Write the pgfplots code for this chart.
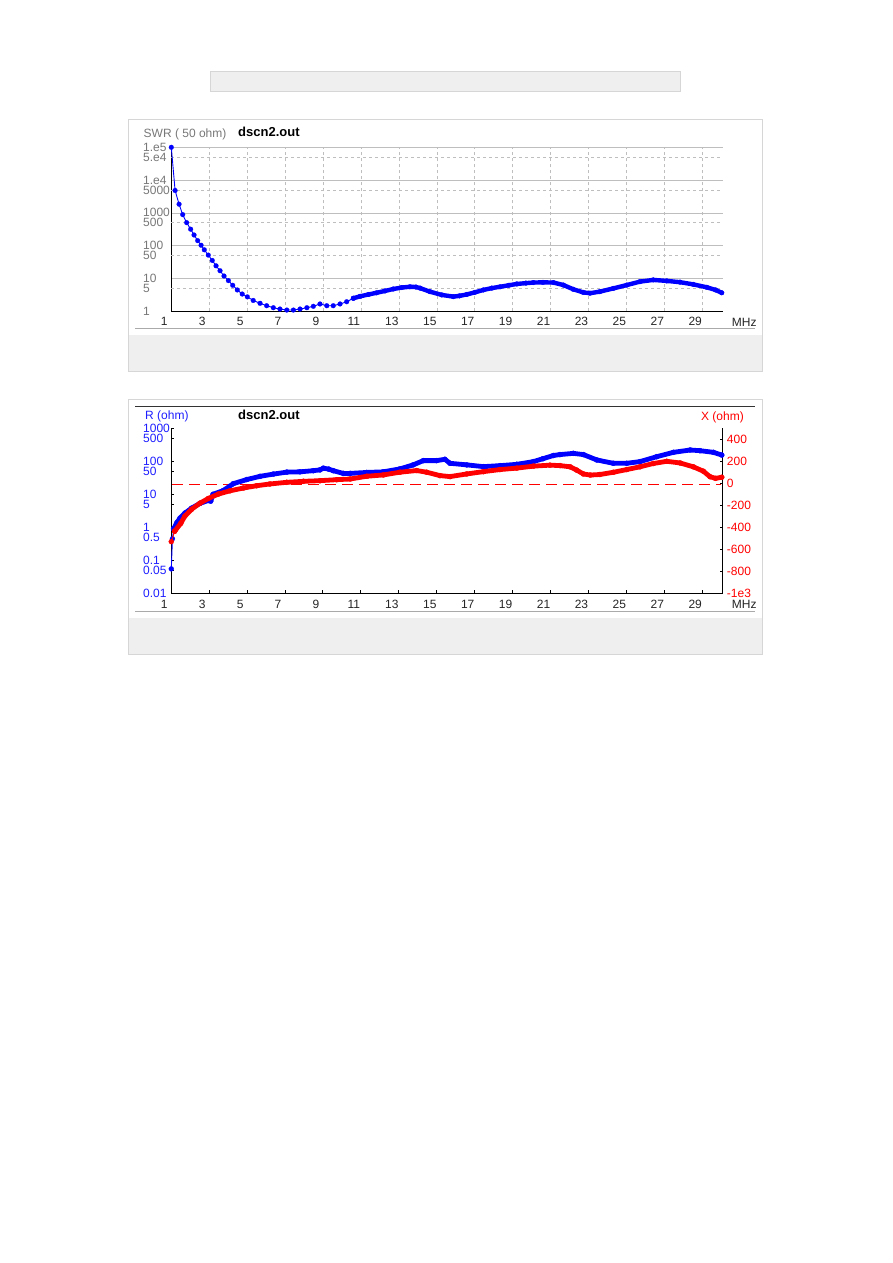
\documentclass[border=0pt]{standalone}
\usepackage{fontspec}
\setmainfont{Liberation Sans}
\usepackage{pgfplots}
\usepackage{pgfplotstable}
\pgfplotsset{compat=1.18}
\definecolor{dblue}{RGB}{0,0,255}
\definecolor{dred}{RGB}{255,0,0}
\definecolor{lblgray}{RGB}{120,120,120}
\definecolor{gridgray}{RGB}{190,190,190}
\definecolor{framegray}{RGB}{214,214,214}
\definecolor{bandgray}{RGB}{239,239,239}
\definecolor{sepgray}{RGB}{170,170,170}
\definecolor{lblblue}{RGB}{30,30,255}

\pgfplotstableread{
f v
1.0 100000
1.2 4800
1.41 1830
1.6 880
1.81 500
2.02 316
2.2 210
2.39 141
2.57 102
2.74 74
2.95 51
3.16 35
3.36 24
3.57 17
3.78 11.7
4.01 8.5
4.24 6.1
4.48 4.4
4.74 3.3
5.01 2.7
5.32 2.1
5.68 1.72
6.03 1.45
6.38 1.26
6.73 1.15
7.09 1.07
7.44 1.07
7.79 1.15
8.15 1.26
8.49 1.39
8.84 1.64
9.2 1.45
9.54 1.45
9.9 1.64
10.25 1.92
10.6 2.45
}\swrA

\pgfplotstableread{
f v
10.6 2.45
10.95 2.8
11.4 3.2
11.83 3.6
12.27 4.1
12.71 4.7
13.15 5.2
13.59 5.5
13.9 5.4
14.12 5.0
14.64 3.9
15.26 3.1
15.87 2.75
16.2 2.9
16.58 3.2
17.0 3.7
17.46 4.4
17.9 5.0
18.34 5.5
18.8 6.1
19.22 6.7
19.7 7.1
20.1 7.4
20.6 7.5
21.15 7.4
21.68 6.2
22.2 4.6
22.73 3.7
23.08 3.5
23.6 3.9
24.31 4.9
25.02 6.2
25.72 7.9
26.42 8.9
27.13 8.3
27.83 7.6
28.53 6.5
29.24 5.3
29.7 4.4
30.03 3.6
}\swrB

\pgfplotstableread{
f r
1.0 0.055
1.06 0.45
1.12 0.9
}\rA

\pgfplotstableread{
f r
1.12 0.9
1.3 1.4
1.46 1.9
1.72 2.7
2.07 3.8
2.51 5.3
2.95 6.5
3.08 6.2
3.2 10
3.74 13
4.27 21
4.98 28
5.68 35
6.38 41
7.09 47
7.79 48
8.49 52
8.84 55
9.02 62
9.3 58
9.54 52
10.07 43
10.43 43
11.31 46
12.18 48
13.06 59
13.76 78
14.29 105
14.99 105
15.43 115
15.7 87
16.58 78
17.46 69
18.34 74
19.22 81
20.1 98
20.6 120
21.15 150
21.5 160
22.2 174
22.73 160
23.44 110
24.31 87
25.02 87
25.72 98
26.6 138
27.48 187
28.36 220
28.88 210
29.59 187
30.03 155
}\rB

\pgfplotstableread{
f x
1.0 -530
1.18 -435
}\xA

\pgfplotstableread{
f x
1.18 -435
1.5 -364
1.72 -297
2.07 -236
2.51 -181
2.95 -138
3.48 -98
4.1 -68
4.8 -43
5.5 -22
6.2 -6
7.09 9
7.97 18
8.84 24
9.72 33
10.43 39
11.31 64
12.18 76
13.06 101
13.94 116
14.46 101
15.17 70
15.7 61
16.58 85
17.46 106
18.34 125
19.22 138
20.1 156
20.97 165
21.5 161
22.03 150
22.38 120
22.73 85
23.1 75
23.6 80
24.31 100
25.02 125
25.72 150
26.42 180
27.13 200
27.83 185
28.53 150
29.06 110
29.41 60
29.7 45
30.03 55
}\xB

\begin{document}
\fontsize{12pt}{14pt}\selectfont
\begin{tikzpicture}
\path[fill=white] (0pt,0pt) rectangle (893pt,-1263pt);
% top bar
\path[fill=bandgray, draw=framegray] (210.5pt,-71.5pt) rectangle (680.5pt,-91.5pt);
% top panel frame
\path[fill=white, draw=framegray] (128.5pt,-119.5pt) rectangle (762.5pt,-371.5pt);
\path[fill=bandgray] (129pt,-335pt) rectangle (762pt,-371pt);
\draw[sepgray] (135pt,-328.5pt) -- (755pt,-328.5pt);
% bottom panel frame
\path[fill=white, draw=framegray] (128.5pt,-399.5pt) rectangle (762.5pt,-654.5pt);
\path[fill=bandgray] (129pt,-618pt) rectangle (762pt,-654pt);
\draw[sepgray] (135pt,-611.5pt) -- (755pt,-611.5pt);
\draw[black!80, line width=1pt] (135pt,-406pt) -- (755pt,-406pt);

% titles
\node[anchor=base west, inner sep=0pt, text=lblgray] at (143.5pt,-137pt) {SWR ( 50 ohm)};
\node[anchor=base west, inner sep=0pt, font=\fontsize{13pt}{15pt}\selectfont\bfseries] at (238pt,-136pt) {dscn2.out};
\node[anchor=base west, inner sep=0pt, text=black!85] at (731.7pt,-326pt) {MHz};
\node[anchor=base west, inner sep=0pt, text=lblblue] at (145pt,-419.5pt) {R (ohm)};
\node[anchor=base west, inner sep=0pt, font=\fontsize{13pt}{15pt}\selectfont\bfseries] at (238pt,-419pt) {dscn2.out};
\node[anchor=base east, inner sep=0pt, text=dred] at (744pt,-420pt) {X (ohm)};
\node[anchor=base west, inner sep=0pt, text=black!85] at (731.7pt,-608pt) {MHz};

% zero reactance reference line (X = 0), long red dashes
\draw[draw=red, color=red, line width=1.2pt, dash pattern=on 11pt off 6pt] (172pt,-484.3pt) -- (721pt,-484.3pt);

% ---------- SWR axis ----------
\begin{axis}[
  at={(171.3pt,-311pt)}, anchor=south west,
  scale only axis, width=551.4pt, height=163.7pt,
  xmin=1, xmax=30.08, ymode=log, ymin=1, ymax=1e5,
  axis x line*=bottom, axis y line*=left,
  axis line style={-, black, line width=1pt},
  xtick={1,3,...,29},
  xticklabels={1,3,5,7,9,11,13,15,17,19,21,23,25,27,29},
  ytick={1,10,100,1000,10000,100000},
  yticklabels={1,10,100,1000,1.e4,1.e5},
  extra y ticks={5,50,500,5000,50000},
  extra y tick labels={5,50,500,5000,5.e4},
  extra y tick style={grid=major, major y grid style={gridgray, dash pattern=on 3pt off 3pt}},
  grid=major,
  x grid style={gridgray, dash pattern=on 3pt off 3pt},
  y grid style={gridgray},
  major tick length=0pt, minor tick length=0pt,
  xticklabel style={anchor=base, inner sep=0pt, xshift=-7pt, yshift=-14.7pt, text=black!85},
  yticklabel style={anchor=west, inner sep=0pt, xshift=-28.3pt, text=lblgray},
  clip=false,
]
\addplot[dblue, line width=0.9pt, mark=*, mark size=2.4pt, mark options={solid, line width=0.2pt, fill=dblue}] table[x=f, y=v] {\swrA};
\addplot[dblue, line width=4.4pt, line join=round, line cap=round, mark=*, mark size=2.4pt, mark options={solid, line width=0.2pt, fill=dblue}] table[x=f, y=v] {\swrB};
\end{axis}

% ---------- X axis (right, linear) ----------
\begin{axis}[
  at={(171.3pt,-593.3pt)}, anchor=south west,
  scale only axis, width=551.4pt, height=165pt,
  xmin=1, xmax=30.08, ymin=-1000, ymax=500,
  hide x axis, axis y line*=right,
  axis line style={-, black, line width=1pt},
  ytick={-1000,-800,-600,-400,-200,0,200,400},
  yticklabels={-1e3,-800,-600,-400,-200,0,200,400},
  major tick length=3pt, tick style={black, line width=1pt},
  yticklabel style={anchor=west, inner sep=0pt, xshift=4pt, text=dred},
  clip=false,
]
\end{axis}

% ---------- R axis (left, log) ----------
\begin{axis}[
  at={(171.3pt,-593.3pt)}, anchor=south west,
  scale only axis, width=551.4pt, height=165pt,
  xmin=1, xmax=30.08, ymode=log, ymin=0.01, ymax=1000,
  axis x line*=bottom, axis y line*=left,
  axis line style={-, black, line width=1pt},
  xtick={1,3,...,29},
  xticklabels={1,3,5,7,9,11,13,15,17,19,21,23,25,27,29},
  ytick={0.01,0.1,1,10,100,1000},
  yticklabels={0.01,0.1,1,10,100,1000},
  extra y ticks={0.05,0.5,5,50,500},
  extra y tick labels={0.05,0.5,5,50,500},
  major tick length=3pt, minor tick length=0pt, tick style={black, line width=1pt},
  xticklabel style={anchor=base, inner sep=0pt, xshift=-7pt, yshift=-15pt, text=black!85},
  yticklabel style={anchor=west, inner sep=0pt, xshift=-28.3pt, text=lblblue},
  clip=false,
]
\addplot[dblue, line width=0.9pt, mark=*, mark size=2.5pt, mark options={solid, line width=0.2pt, fill=dblue}] table[x=f, y=r] {\rA};
\addplot[dblue, line width=4.8pt, line join=round, line cap=round, mark=*, mark size=2.6pt, mark options={solid, line width=0.2pt, fill=dblue}] table[x=f, y=r] {\rB};
\end{axis}

% ---------- X data ----------
\begin{axis}[
  at={(171.3pt,-593.3pt)}, anchor=south west,
  scale only axis, width=551.4pt, height=165pt,
  xmin=1, xmax=30.08, ymin=-1000, ymax=500,
  hide axis, clip=false,
]
\addplot[dred, line width=0.9pt, mark=*, mark size=2.6pt, mark options={solid, line width=0.2pt, fill=dred}] table[x=f, y=x] {\xA};
\addplot[dred, line width=4.8pt, line join=round, line cap=round, mark=*, mark size=2.6pt, mark options={solid, line width=0.2pt, fill=dred}] table[x=f, y=x] {\xB};
\end{axis}

\pgfresetboundingbox
\path[use as bounding box] (0pt,0pt) rectangle (893pt,-1263pt);
\end{tikzpicture}
\end{document}
